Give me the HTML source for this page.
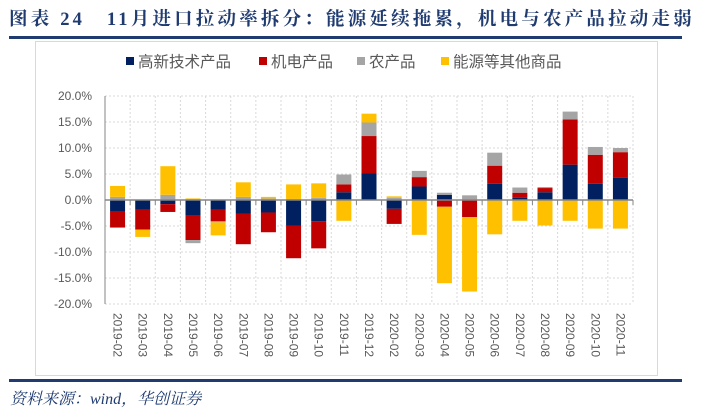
<!DOCTYPE html>
<html><head><meta charset="utf-8"><style>
body{margin:0;width:701px;height:416px;background:#fff;overflow:hidden;position:relative;font-family:"Liberation Sans","Noto Sans CJK SC",sans-serif}
#title{position:absolute;left:9px;top:5px;font-family:"Liberation Serif","Noto Serif CJK SC",serif;font-weight:bold;font-size:18.5px;color:#1f3b70;white-space:nowrap;letter-spacing:3.2px}
#rule1{position:absolute;left:9px;top:36px;width:673px;height:3px;background:#1f3b70}
#box{position:absolute;left:35px;top:41px;width:621px;height:333px;border:1px solid #d9d9d9}
#rule2{position:absolute;left:9px;top:379px;width:673px;height:3px;background:#1f3b70}
#src{position:absolute;left:10px;top:386px;font-family:"Liberation Serif","Noto Serif CJK SC",serif;font-style:italic;font-size:16px;color:#1f3b70}
</style></head><body>
<div id="title">图表 24　11月进口拉动率拆分：能源延续拖累，机电与农产品拉动走弱</div>
<div id="rule1"></div>
<div id="box"></div>
<div id="rule2"></div>
<div id="src">资料来源：wind，华创证券</div>
<svg id="chart" width="701" height="416" style="position:absolute;left:0;top:0"></svg>
<script>
const categories=["2019-02","2019-03","2019-04","2019-05","2019-06","2019-07","2019-08","2019-09","2019-10","2019-11","2019-12","2020-02","2020-03","2020-04","2020-05","2020-06","2020-07","2020-08","2020-09","2020-10","2020-11"];
const hiTech=[-2.2,-1.9,-0.8,-3.0,-1.9,-2.6,-2.4,-4.9,-4.1,1.5,5.1,-1.7,2.6,1.0,0.1,3.1,0.4,1.5,6.8,3.1,4.3];
const mechElec=[-3.1,-3.8,-1.5,-4.7,-2.2,-5.9,-3.8,-6.3,-5.2,1.5,7.2,-2.9,1.8,-1.3,-3.3,3.5,1.0,0.8,8.7,5.6,4.9];
const agri=[0.6,0,1.0,-0.6,-0.2,0.6,0.3,0.2,0.4,1.9,2.6,0.4,1.2,0.4,0.8,2.5,1.0,0.2,1.5,1.5,0.8];
const energy=[2.1,-1.4,5.5,0.3,-2.5,2.8,0.3,2.8,2.8,-4.0,1.7,0.3,-6.7,-14.7,-14.3,-6.6,-4.0,-4.9,-4.0,-5.5,-5.5];
const yTicks=[20,15,10,5,0,-5,-10,-15,-20];
const seriesNames=["高新技术产品","机电产品","农产品","能源等其他商品"];
const colors=["#002060","#c00000","#a5a5a5","#ffc000"];
const NS="http://www.w3.org/2000/svg";
const svg=document.getElementById('chart');
const x0=105,x1=633,yTop=96,yBot=304;
const bw=(x1-x0)/categories.length;
const y=v=>yTop+(20-v)/40*(yBot-yTop);
const xc=i=>x0+bw*(i+0.5);
function mk(t,a){const e=document.createElementNS(NS,t);for(const k in a)e.setAttribute(k,a[k]);svg.appendChild(e);return e;}
yTicks.forEach(t=>{
  const g=mk('line',{x1:x0,x2:x1,y1:y(t),y2:y(t),stroke:'#d9d9d9','stroke-dasharray':'2,2'});
  
  
  const l=mk('text',{x:92,y:y(t)+4,'text-anchor':'end','font-size':'12',fill:'#595959'});
  l.textContent=t.toFixed(1)+'%';
  
  
});
for(let i=1;i<=categories.length;i++){
  const g=mk('line',{x1:x0+bw*i,x2:x0+bw*i,y1:yTop,y2:yBot,stroke:'#d9d9d9','stroke-dasharray':'2,2'});
  
  
}
const ya=mk('line',{x1:x0,x2:x0,y1:yTop,y2:yBot,stroke:'#868686'});


const series=[hiTech,mechElec,agri,energy];
const keys=["hitech","mech","agri","energy"];
categories.forEach((c,i)=>{
  let pos=0,neg=0;
  series.forEach((s,k)=>{
    const v=s[i];if(!v)return;
    let a,b;
    if(v>0){a=pos;b=pos+v;pos=b;}else{a=neg;b=neg+v;neg=b;}
    const r=mk('rect',{x:xc(i)-7.5,width:15,y:Math.min(y(a),y(b)),height:Math.abs(y(a)-y(b)),fill:colors[k]});
    
    
  });
  const tl=mk('text',{transform:`translate(${xc(i)-4},313) rotate(90)`,'font-size':'12',fill:'#595959'});
  tl.textContent=c;
  
  
  const tk=mk('line',{x1:x0+bw*(i+1),x2:x0+bw*(i+1),y1:y(0),y2:y(0)+5,stroke:'#868686'});
  
  
});
const xa=mk('line',{x1:x0,x2:x1,y1:y(0),y2:y(0),stroke:'#868686','stroke-width':1.5});


const lx=[126,259,357,441];
seriesNames.forEach((n,k)=>{
  const r=mk('rect',{x:lx[k],y:57,width:8,height:8,fill:colors[k]});
  
  
  const t=mk('text',{x:lx[k]+12,y:67,'font-size':'15.5',fill:'#595959'});
  t.textContent=n;
  
  
});
</script>
</body></html>
